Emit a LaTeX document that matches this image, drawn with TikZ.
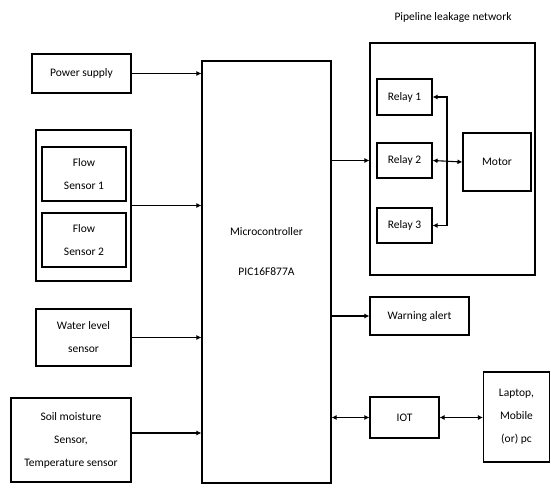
\documentclass[tikz,border=0pt]{standalone}
\usepackage{fontspec}
\setmainfont{Carlito}
\usetikzlibrary{arrows.meta}

\begin{document}
\begin{tikzpicture}[x=1pt,y=-1pt,
  every node/.style={font=\fontsize{11.5}{23}\selectfont},
  box/.style={draw,rectangle,line width=1.1pt,align=center,inner sep=0pt},
  link/.style={line width=1.1pt,-{Latex[length=5pt,width=5pt]}},
  dlink/.style={line width=1.1pt,{Latex[length=5pt,width=5pt]}-{Latex[length=5pt,width=5pt]}}]
\useasboundingbox (0,0) rectangle (551,487);
% inputs
\node[box,minimum width=99pt,minimum height=39pt] (power) at (81.5,73.5) {Power supply};
\node[box,minimum width=95pt,minimum height=151pt] (flowgrp) at (83.5,205.5) {};
\node[box,minimum width=84pt,minimum height=54pt] (flow1) at (84,174) {Flow\\Sensor 1};
\node[box,minimum width=84pt,minimum height=54pt] (flow2) at (84,240) {Flow\\Sensor 2};
\node[box,minimum width=95pt,minimum height=57pt] (water) at (83.5,337.5) {Water level\\sensor};
\node[box,minimum width=120pt,minimum height=84pt] (soil) at (71,440) {Soil moisture\\Sensor,\\Temperature sensor};
% controller
\node[box,minimum width=129pt,minimum height=422pt,text depth=41pt] (mcu) at (266.5,272) {Microcontroller\\[17pt]PIC16F877A};
% outputs
\node (title) at (453,17) {Pipeline leakage network};
\node[box,minimum width=165pt,minimum height=232pt] (pipe) at (452.5,159) {};
\node[box,minimum width=55pt,minimum height=36pt] (relay1) at (404.5,97) {Relay 1};
\node[box,minimum width=55pt,minimum height=35pt] (relay2) at (404.5,160.5) {Relay 2};
\node[box,minimum width=55pt,minimum height=35pt] (relay3) at (404.5,225.5) {Relay 3};
\node[box,minimum width=68pt,minimum height=58pt] (motor) at (497,162) {Motor};
\node[box,minimum width=99pt,minimum height=38pt] (warn) at (419.5,316) {Warning alert};
\node[box,minimum width=69pt,minimum height=41pt] (iot) at (404.5,417.5) {IOT};
\node[box,minimum width=66pt,minimum height=90pt] (laptop) at (516.5,417) {Laptop,\\Mobile\\(or) pc};
\coordinate (bus) at (447,160.5);
% connectors
\draw[link] (power.east) -- (power.east -| mcu.west);
\draw[link] (flowgrp.east) -- (flowgrp.east -| mcu.west);
\draw[link] (water.east) -- (water.east -| mcu.west);
\draw[link] ([yshift=7pt]soil.east) -- ([yshift=7pt]soil.east -| mcu.west);
\draw[link] (mcu.east |- relay2.east) -- (relay2.east -| pipe.west);
\draw[link] (mcu.east |- warn.west) -- (warn.west);
\draw[dlink] (mcu.east |- iot.west) -- (iot.west);
\draw[dlink,line width=0.8pt] (iot.east) -- (iot.east -| laptop.west);
\draw[dlink] (relay1.east) -| (bus) |- (relay3.east);
\draw[dlink] (relay2.east) -- (motor.west);
\end{tikzpicture}
\end{document}
